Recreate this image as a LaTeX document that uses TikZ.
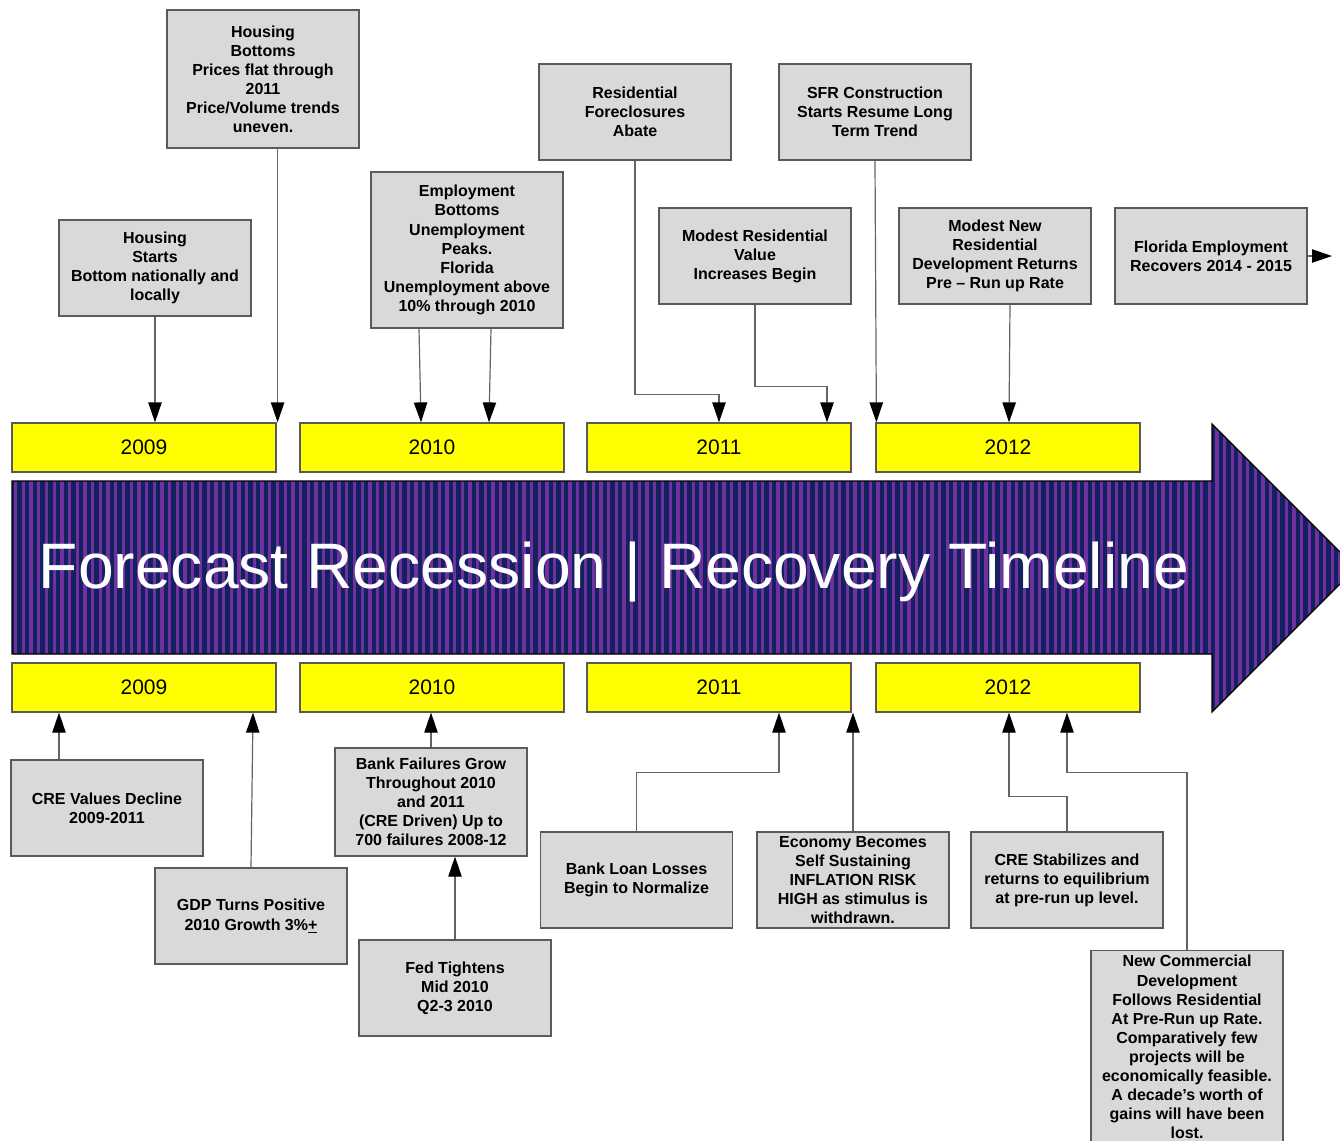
\documentclass[tikz,border=0pt]{standalone}
\usepackage{fontspec}
\setmainfont{Liberation Sans}
\usetikzlibrary{calc,arrows.meta}
\definecolor{navy}{RGB}{20,33,95}
\definecolor{stripe}{RGB}{112,48,160}
\definecolor{boxfill}{RGB}{217,217,217}
\definecolor{edge}{RGB}{90,90,90}
\definecolor{wire}{RGB}{100,100,100}
\definecolor{yr}{RGB}{255,255,0}
\tikzset{
  gbox/.style={draw=edge, line width=0.9pt, fill=boxfill, minimum width=144pt,
    minimum height=72pt, inner sep=2pt, align=center,
    font=\fontsize{12pt}{14.3pt}\selectfont\bfseries},
  yearbox/.style={draw=edge, line width=0.9pt, fill=yr, minimum width=198pt,
    minimum height=36.75pt, inner sep=0pt, font=\fontsize{15.75pt}{18pt}\selectfont},
  conn/.style={draw=wire, line width=0.9pt,
    -{Triangle[length=15pt,width=10pt,fill=black,color=black]}},
}
\begin{document}
\begin{tikzpicture}[x=0.75pt,y=-0.75pt]
\useasboundingbox (0,0) rectangle (1340,1140);
\fill[white] (0,0) rectangle (1340,1140);

% striped timeline arrow
\begin{scope}
  \clip (12,481) -- (1212,481) -- (1212,424) -- (1356,568) -- (1212,712)
        -- (1212,654) -- (12,654) -- cycle;
  \fill[navy] (0,400) rectangle (1360,720);
  \foreach \i in {0,...,176} {
    \fill[stripe] ({14+7.7*\i},400) rectangle ({17.3+7.7*\i},720);
  }
\end{scope}
\draw[black, line width=0.9pt] (12,481) -- (1212,481) -- (1212,424) -- (1356,568)
  -- (1212,712) -- (1212,654) -- (12,654) -- cycle;
\node[anchor=base west, inner sep=0pt, text=white,
  font=\fontsize{48.2pt}{56pt}\selectfont] (title) at (38.5,588)
  {Forecast Recession | Recovery Timeline};

% year markers above and below the arrow
\node[yearbox] (y09t) at (144,447.5) {2009};
\node[yearbox] (y10t) at (432,447.5) {2010};
\node[yearbox] (y11t) at (719,447.5) {2011};
\node[yearbox] (y12t) at (1008,447.5) {2012};
\node[yearbox] (y09b) at (144,687.5) {2009};
\node[yearbox] (y10b) at (432,687.5) {2010};
\node[yearbox] (y11b) at (719,687.5) {2011};
\node[yearbox] (y12b) at (1008,687.5) {2012};

% events above the arrow
\node[gbox, minimum height=103.5pt] (hb) at (263,79)
  {Housing\\Bottoms\\Prices flat through\\2011\\Price/Volume trends\\uneven.};
\node[gbox] (hs) at (155,268)
  {Housing\\Starts\\Bottom nationally and\\locally};
\node[gbox, minimum height=117pt] (emp) at (467,250)
  {Employment\\Bottoms\\Unemployment\\Peaks.\\Florida\\Unemployment above\\10\% through 2010};
\node[gbox] (rf) at (635,112) {Residential\\Foreclosures\\Abate};
\node[gbox] (mrv) at (755,256) {Modest Residential\\Value\\Increases Begin};
\node[gbox] (sfr) at (875,112) {SFR Construction\\Starts Resume Long\\Term Trend};
\node[gbox] (mnr) at (995,256)
  {Modest New\\Residential\\Development Returns\\Pre -- Run up Rate};
\node[gbox] (fe) at (1211,256) {Florida Employment\\Recovers 2014 - 2015};
\coordinate (feend) at (1332,256);

% events below the arrow
\node[gbox] (cre) at (107,808) {CRE Values Decline\\2009-2011};
\node[gbox] (gdp) at (251,916) {GDP Turns Positive\\2010 Growth 3\%\underline{+}};
\node[gbox, minimum height=81pt] (bf) at (431,802)
  {Bank Failures Grow\\Throughout 2010\\and 2011\\(CRE Driven) Up to\\700 failures 2008-12};
\node[gbox] (fed) at (455,988) {Fed Tightens\\Mid 2010\\Q2-3 2010};
\node[gbox] (bll) at (636.5,880) {Bank Loan Losses\\Begin to Normalize};
\node[gbox] (eco) at (853,880)
  {Economy Becomes\\Self Sustaining\\INFLATION RISK\\HIGH as stimulus is\\withdrawn.};
\node[gbox] (cres) at (1067,880)
  {CRE Stabilizes and\\returns to equilibrium\\at pre-run up level.};
\node[gbox, minimum height=144.75pt] (ncd) at (1187,1047)
  {New Commercial\\Development\\Follows Residential\\At Pre-Run up Rate.\\Comparatively few\\projects will be\\economically feasible.\\A decade's worth of\\gains will have been\\lost.};

% connectors from the upper events
\coordinate (hbend) at ($(y09t.north east)+(1,0)$);
\draw[conn] (hs.south) -- (hs.south |- y09t.north);
\draw[conn] (hbend |- hb.south) -- (hbend);
\draw[conn] ($(emp.south)+(-48,0)$) -- ($(y10t.north)+(-11,0)$);
\draw[conn] ($(emp.south)+(24,0)$) -- ($(y10t.north)+(57,0)$);
\draw[conn] (rf.south) |- ($(y11t.north)+(0,-28)$) -- (y11t.north);
\draw[conn] (mrv.south) |- ($(y11t.north)+(108,-36)$) -- ($(y11t.north)+(108,0)$);
\draw[conn] (sfr.south) -- ($(y12t.north west)+(1,0)$);
\draw[conn] ($(mnr.south)+(15,0)$) -- ($(y12t.north)+(1,0)$);
\draw[conn] (fe.east) -- (feend);

% connectors from the lower events
\draw[conn] ($(cre.north)+(-48,0)$) -- ($(y09b.south)+(-85,0)$);
\draw[conn] (gdp.north) -- ($(y09b.south)+(109,0)$);
\draw[conn] (bf.north) -- (bf.north |- y10b.south);
\draw[conn] (fed.north) -- (fed.north |- bf.south);
\draw[conn] (bll.north) |- ($(y11b.south)+(60,60)$) -- ($(y11b.south)+(60,0)$);
\draw[conn] (eco.north) -- (eco.north |- y11b.south);
\draw[conn] (cres.north) |- ($(y12b.south)+(1,84)$) -- ($(y12b.south)+(1,0)$);
\draw[conn] (ncd.north) |- ($(y12b.south)+(59,60)$) -- ($(y12b.south)+(59,0)$);
\end{tikzpicture}
\end{document}
